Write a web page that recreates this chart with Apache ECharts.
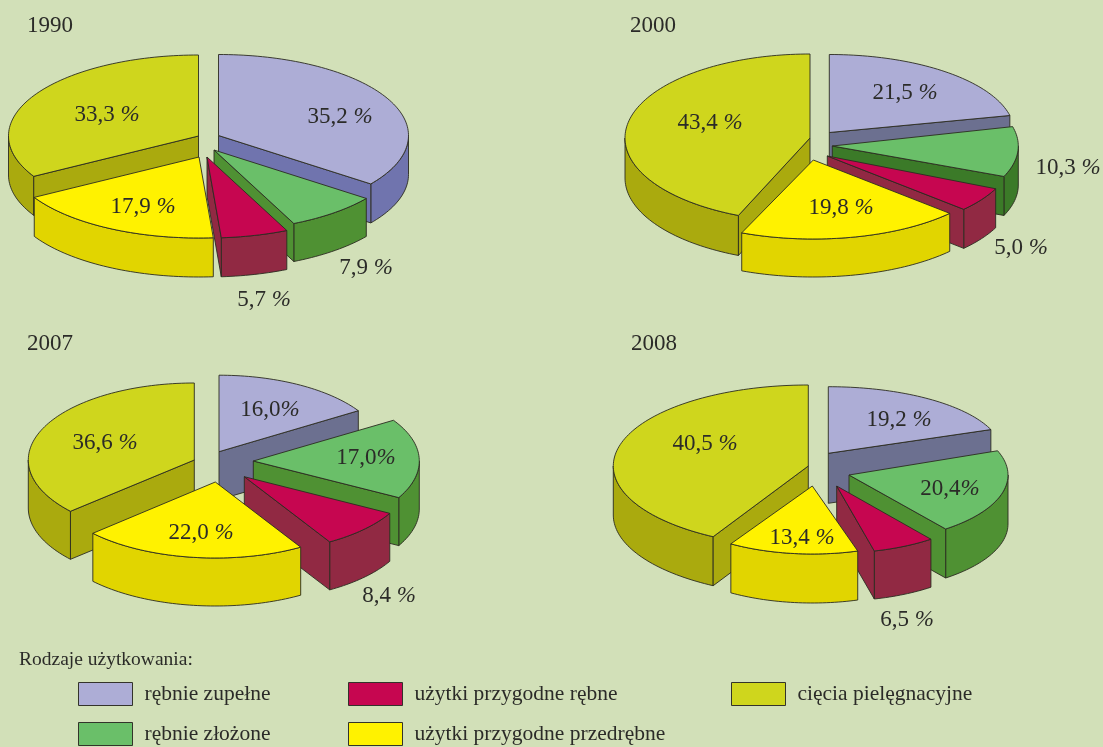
<!DOCTYPE html>
<html><head><meta charset="utf-8">
<script src="https://cdn.jsdelivr.net/npm/echarts@6/dist/echarts.min.js"></script>
<style>html,body{margin:0;padding:0;background:#d2e0b8}#c{width:1103px;height:747px}</style>
</head><body><div id="c"></div>
<script>
// ---- data ----
const years = ['1990', '2000', '2007', '2008'];
const categories = ['rębnie zupełne', 'rębnie złożone', 'użytki przygodne rębne', 'użytki przygodne przedrębne', 'cięcia pielęgnacyjne'];
const values1990 = [35.2, 7.9, 5.7, 17.9, 33.3];
const values2000 = [21.5, 10.3, 5.0, 19.8, 43.4];
const values2007 = [16.0, 17.0, 8.4, 22.0, 36.6];
const values2008 = [19.2, 20.4, 6.5, 13.4, 40.5];
const valuesByYear = [values1990, values2000, values2007, values2008];

// ---- styling and layout (separate from values) ----
const FONT = '"Liberation Serif","Times New Roman",serif';
const topColors = ['#adadd6', '#6abf69', '#c60650', '#fff200', '#cfd61d'];
const wallColors = [
  ['#7074ae', '#4f9133', '#912943', '#e1d500', '#aaaa0e'],
  ['#6c7090', '#3b7a28', '#912943', '#e1d500', '#aaaa0e'],
  ['#6c7090', '#4f9133', '#912943', '#e1d500', '#aaaa0e'],
  ['#6c7090', '#4f9133', '#912943', '#e1d500', '#aaaa0e']
];
const LINE = '#2b2b20';
// slice geometry: cx, cy, rx, ry, depth, start-angle nudge, end-angle nudge
const sliceLayout = [
  [[218.5,135.5,190,81,39,0,0],[214,150,190,81,38,0,0],[207,157,190,81,39,0,0],[199,157,190,81,39,0,0],[198.5,136,190,81,39,0,0]],
  [[829.3,132.5,185,78,39,0,0],[832.3,146,186,79,39,-1.6,-1.8],[827.3,156,185,79,39,0,0],[813.3,160,185,79,38,0,-1],[810,138,185,84,40,-1,0]],
  [[219,451.7,165,76.5,48,0,0],[253.3,461,166,76,48,0,0],[244.3,476.7,166,76,48,0,0],[215.3,482,166,76,48,0,-0.7],[194.3,460,166,77,48,0,0]],
  [[828.3,453.3,174,66.6,50,0,0],[849,475,159,68,49,0,0],[836.7,486,155,67,48,0,0],[812.3,486,155,68,49,-3,-2.5],[808.3,466,195,81,49,-5,0]]
];
// label centre and gap between number and percent sign
const LABEL_DY = 2;
const labelLayout = [
  [[340,115,' '],[366,266,' '],[264,298,' '],[143,205,' '],[107,113,' ']],
  [[905,91,' '],[1068,166,' '],[1021,246,' '],[841,206,' '],[710,121,' ']],
  [[270,408,''],[366,456,''],[389,594,' '],[201,531,' '],[105,441,' ']],
  [[899,418,' '],[950,487,''],[907,618,' '],[802,536,' '],[705,442,' ']]
];
const paintOrder = [0, 4, 1, 2, 3];
const legendSlots = [
  {cat: 0, left: 78,  top: 682},
  {cat: 2, left: 348, top: 682},
  {cat: 4, left: 731, top: 682},
  {cat: 1, left: 78,  top: 722},
  {cat: 3, left: 348, top: 722}
];

function pt(g, deg) {
  const a = deg * Math.PI / 180;
  return [g[0] + g[2] * Math.sin(a), g[1] - g[3] * Math.cos(a)];
}
function arc(g, from, to) {
  const n = Math.max(2, Math.ceil(Math.abs(to - from) / 1.5)), out = [];
  for (let i = 0; i <= n; i++) out.push(pt(g, from + (to - from) * i / n));
  return out;
}
const down = (p, d) => [p[0], p[1] + d];

function renderSlice(params, api) {
  const y = api.value(0), s = api.value(1), v = api.value(2);
  const vals = valuesByYear[y];
  let before = 0;
  for (let i = 0; i < s; i++) before += vals[i];
  const total = vals.reduce((a, b) => a + b, 0);
  const g = sliceLayout[y][s];
  const a0 = before / total * 360 + g[5];
  const a1 = (before + v) / total * 360 + g[6];
  const d = g[4], c = [g[0], g[1]];
  const wall = wallColors[y][s];
  const shapeStyle = (fill) => ({fill, stroke: LINE, lineWidth: 0.9, lineJoin: 'round'});
  const children = [];
  // outer rim: only the part that faces the viewer
  const w0 = Math.max(a0, 90), w1 = Math.min(a1, 270);
  if (w1 > w0) {
    const top = arc(g, w0, w1);
    const bottom = top.map(p => down(p, d)).reverse();
    children.push({type: 'polygon', shape: {points: top.concat(bottom)}, style: shapeStyle(wall)});
  }
  // radial faces
  const face = (deg) => {
    const p = pt(g, deg);
    children.push({type: 'polygon', shape: {points: [c, p, down(p, d), down(c, d)]}, style: shapeStyle(wall)});
  };
  if (Math.sin(a0 * Math.PI / 180) < 0) face(a0);
  if (Math.sin(a1 * Math.PI / 180) > 0) face(a1);
  // top surface
  children.push({type: 'polygon', shape: {points: [c].concat(arc(g, a0, a1))}, style: shapeStyle(topColors[s])});
  // value label
  const L = labelLayout[y][s];
  const num = v.toFixed(1).replace('.', ',');
  children.push({
    type: 'text',
    style: {
      x: L[0], y: L[1] + LABEL_DY, align: 'center', verticalAlign: 'middle',
      text: '{n|' + num + L[2] + '}{p|%}',
      rich: {
        n: {fontFamily: FONT, fontSize: 23, fill: '#2b2b28', color: '#2b2b28'},
        p: {fontFamily: FONT, fontSize: 23, fontStyle: 'italic', fill: '#2b2b28', color: '#2b2b28'}
      }
    }
  });
  return {type: 'group', children};
}

const series = paintOrder.map(s => ({
  type: 'custom',
  name: categories[s],
  coordinateSystem: 'none',
  silent: true,
  itemStyle: {color: topColors[s]},
  renderItem: renderSlice,
  data: years.map((_, y) => [y, s, valuesByYear[y][s]])
}));

const titles = [
  {text: years[0], left: 27, top: 14},
  {text: years[1], left: 630, top: 14},
  {text: years[2], left: 27, top: 332},
  {text: years[3], left: 631, top: 332}
].map(t => Object.assign(t, {padding: 0, textStyle: {fontFamily: FONT, fontSize: 23, fontWeight: 'normal', color: '#2b2b28'}}));
titles.push({text: 'Rodzaje użytkowania:', left: 19, top: 650, padding: 0,
  textStyle: {fontFamily: FONT, fontSize: 19.5, fontWeight: 'normal', color: '#2b2b28'}});

const legends = legendSlots.map(l => ({
  data: [categories[l.cat]],
  left: l.left, top: l.top, padding: 0, orient: 'horizontal',
  itemWidth: 54, itemHeight: 23, icon: 'rect', selectedMode: false,
  itemStyle: {borderColor: '#33332a', borderWidth: 1},
  textStyle: {fontFamily: FONT, fontSize: 21.5, color: '#2b2b28', padding: [3, 0, 0, 7]}
}));

const chart = echarts.init(document.getElementById('c'), null, {renderer: 'canvas'});
chart.setOption({
  animation: false,
  backgroundColor: '#d2e0b8',
  title: titles,
  legend: legends,
  series
});
</script></body></html>
